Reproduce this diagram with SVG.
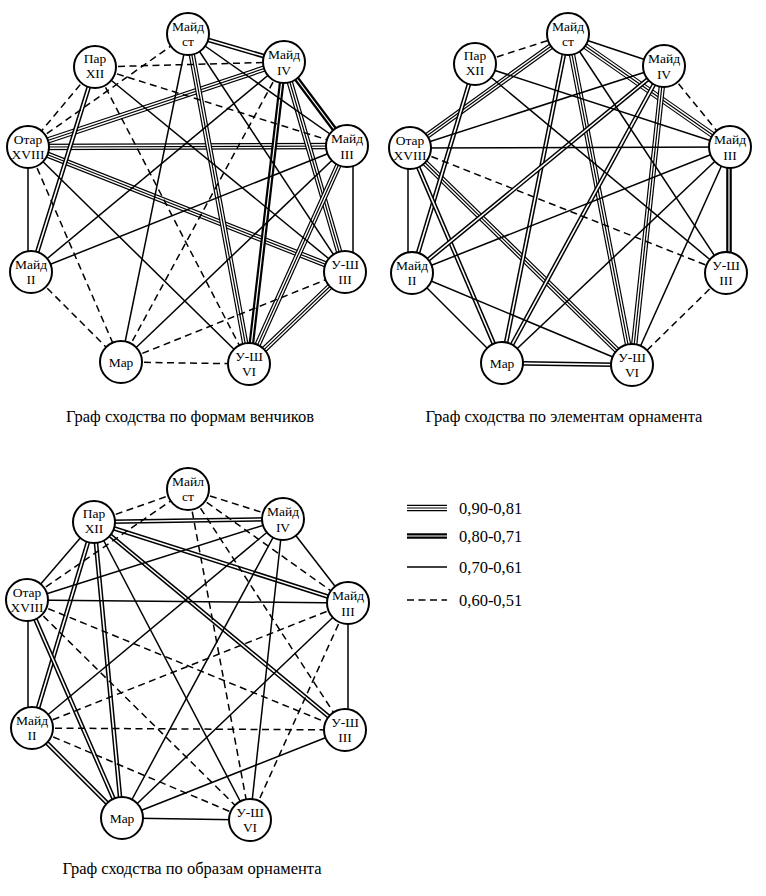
<svg xmlns="http://www.w3.org/2000/svg" width="766" height="896" viewBox="0 0 766 896">
<style>
.n circle{fill:#fff;stroke:#000;stroke-width:2}
.n text,.cap{font-family:"Liberation Serif","Times New Roman",serif;fill:#000;text-anchor:middle}
.n text{font-size:13.5px}
.cap{font-size:16.5px}
.lg{font-family:"Liberation Serif","Times New Roman",serif;font-size:16.5px;fill:#000}
line{fill:none}
.s{stroke:#000;stroke-width:1.5}
.d{stroke:#000;stroke-width:1.5;stroke-dasharray:7 4.5}
.t0{stroke:#000;stroke-width:6.4}
.t1{stroke:#fff;stroke-width:4}
.t2{stroke:#000;stroke-width:1.2}
.w0{stroke:#000;stroke-width:4.6}
.w1{stroke:#fff;stroke-width:1.6}
.k0{stroke:#000;stroke-width:5.6}
.k1{stroke:#fff;stroke-width:1.2}
</style>
<rect width="766" height="896" fill="#fff"/>

<g id="connectors-1">
<line class="t0" x1="28" y1="147" x2="284" y2="62"/><line class="t1" x1="28" y1="147" x2="284" y2="62"/><line class="t2" x1="28" y1="147" x2="284" y2="62"/>
<line class="t0" x1="28" y1="147" x2="347" y2="146"/><line class="t1" x1="28" y1="147" x2="347" y2="146"/><line class="t2" x1="28" y1="147" x2="347" y2="146"/>
<line class="t0" x1="28" y1="147" x2="345" y2="272"/><line class="t1" x1="28" y1="147" x2="345" y2="272"/><line class="t2" x1="28" y1="147" x2="345" y2="272"/>
<line class="t0" x1="188" y1="34" x2="249" y2="364"/><line class="t1" x1="188" y1="34" x2="249" y2="364"/><line class="t2" x1="188" y1="34" x2="249" y2="364"/>
<line class="t0" x1="284" y1="62" x2="345" y2="272"/><line class="t1" x1="284" y1="62" x2="345" y2="272"/><line class="t2" x1="284" y1="62" x2="345" y2="272"/>
<line class="t0" x1="347" y1="146" x2="249" y2="364"/><line class="t1" x1="347" y1="146" x2="249" y2="364"/><line class="t2" x1="347" y1="146" x2="249" y2="364"/>
<line class="t0" x1="345" y1="272" x2="249" y2="364"/><line class="t1" x1="345" y1="272" x2="249" y2="364"/><line class="t2" x1="345" y1="272" x2="249" y2="364"/>
<line class="w0" x1="95" y1="67" x2="31" y2="272"/><line class="w1" x1="95" y1="67" x2="31" y2="272"/>
<line class="w0" x1="188" y1="34" x2="284" y2="62"/><line class="w1" x1="188" y1="34" x2="284" y2="62"/>
<line class="k0" x1="284" y1="62" x2="249" y2="364"/><line class="k1" x1="284" y1="62" x2="249" y2="364"/>
<line class="k0" x1="284" y1="62" x2="347" y2="146"/><line class="k1" x1="284" y1="62" x2="347" y2="146"/>
<line class="s" x1="28" y1="147" x2="249" y2="364"/>
<line class="s" x1="28" y1="147" x2="28" y2="272"/>
<line class="s" x1="188" y1="34" x2="121" y2="362"/>
<line class="s" x1="188" y1="34" x2="347" y2="146"/>
<line class="s" x1="188" y1="34" x2="345" y2="272"/>
<line class="s" x1="284" y1="62" x2="31" y2="272"/>
<line class="s" x1="347" y1="146" x2="31" y2="272"/>
<line class="s" x1="347" y1="146" x2="121" y2="362"/>
<line class="s" x1="353" y1="146" x2="353" y2="272"/>
<line class="s" x1="95" y1="67" x2="345" y2="272"/>
<line class="d" x1="95" y1="67" x2="284" y2="62"/>
<line class="d" x1="95" y1="67" x2="347" y2="146"/>
<line class="d" x1="95" y1="67" x2="249" y2="364"/>
<line class="d" x1="95" y1="67" x2="28" y2="147"/>
<line class="d" x1="28" y1="147" x2="188" y2="34"/>
<line class="d" x1="28" y1="147" x2="121" y2="362"/>
<line class="d" x1="284" y1="62" x2="121" y2="362"/>
<line class="d" x1="31" y1="272" x2="121" y2="362"/>
<line class="d" x1="121" y1="362" x2="345" y2="272"/>
<line class="d" x1="121" y1="362" x2="249" y2="364"/>
</g>

<g id="connectors-2">
<line class="t0" x1="410" y1="148" x2="568" y2="34"/><line class="t1" x1="410" y1="148" x2="568" y2="34"/><line class="t2" x1="410" y1="148" x2="568" y2="34"/>
<line class="t0" x1="410" y1="148" x2="632" y2="365"/><line class="t1" x1="410" y1="148" x2="632" y2="365"/><line class="t2" x1="410" y1="148" x2="632" y2="365"/>
<line class="t0" x1="568" y1="34" x2="730" y2="147"/><line class="t1" x1="568" y1="34" x2="730" y2="147"/><line class="t2" x1="568" y1="34" x2="730" y2="147"/>
<line class="t0" x1="568" y1="34" x2="632" y2="365"/><line class="t1" x1="568" y1="34" x2="632" y2="365"/><line class="t2" x1="568" y1="34" x2="632" y2="365"/>
<line class="t0" x1="664" y1="66" x2="632" y2="365"/><line class="t1" x1="664" y1="66" x2="632" y2="365"/><line class="t2" x1="664" y1="66" x2="632" y2="365"/>
<line class="w0" x1="475" y1="64" x2="412" y2="273"/><line class="w1" x1="475" y1="64" x2="412" y2="273"/>
<line class="w0" x1="410" y1="148" x2="502" y2="363"/><line class="w1" x1="410" y1="148" x2="502" y2="363"/>
<line class="w0" x1="568" y1="34" x2="502" y2="363"/><line class="w1" x1="568" y1="34" x2="502" y2="363"/>
<line class="w0" x1="502" y1="363" x2="632" y2="365"/><line class="w1" x1="502" y1="363" x2="632" y2="365"/>
<line class="w0" x1="412" y1="273" x2="664" y2="66"/><line class="w1" x1="412" y1="273" x2="664" y2="66"/>
<line class="w0" x1="502" y1="363" x2="664" y2="66"/><line class="w1" x1="502" y1="363" x2="664" y2="66"/>
<line class="k0" x1="729" y1="147" x2="729" y2="273"/><line class="k1" x1="729" y1="147" x2="729" y2="273"/>
<line class="s" x1="475" y1="64" x2="730" y2="147"/>
<line class="s" x1="475" y1="64" x2="726" y2="273"/>
<line class="s" x1="410" y1="148" x2="664" y2="66"/>
<line class="s" x1="410" y1="148" x2="730" y2="147"/>
<line class="s" x1="408" y1="148" x2="408" y2="273"/>
<line class="s" x1="568" y1="34" x2="664" y2="66"/>
<line class="s" x1="568" y1="34" x2="726" y2="273"/>
<line class="s" x1="412" y1="273" x2="730" y2="147"/>
<line class="s" x1="412" y1="273" x2="632" y2="365"/>
<line class="s" x1="412" y1="273" x2="502" y2="363"/>
<line class="s" x1="502" y1="363" x2="730" y2="147"/>
<line class="s" x1="730" y1="147" x2="632" y2="365"/>
<line class="d" x1="475" y1="64" x2="568" y2="34"/>
<line class="d" x1="664" y1="66" x2="730" y2="147"/>
<line class="d" x1="410" y1="148" x2="726" y2="273"/>
<line class="d" x1="726" y1="273" x2="632" y2="365"/>
</g>

<g id="connectors-3">
<line class="w0" x1="94" y1="522" x2="283" y2="519"/><line class="w1" x1="94" y1="522" x2="283" y2="519"/>
<line class="w0" x1="94" y1="522" x2="348" y2="603"/><line class="w1" x1="94" y1="522" x2="348" y2="603"/>
<line class="w0" x1="94" y1="522" x2="345" y2="730"/><line class="w1" x1="94" y1="522" x2="345" y2="730"/>
<line class="w0" x1="94" y1="522" x2="122" y2="818"/><line class="w1" x1="94" y1="522" x2="122" y2="818"/>
<line class="w0" x1="94" y1="522" x2="32" y2="728"/><line class="w1" x1="94" y1="522" x2="32" y2="728"/>
<line class="w0" x1="27" y1="600" x2="122" y2="818"/><line class="w1" x1="27" y1="600" x2="122" y2="818"/>
<line class="w0" x1="32" y1="728" x2="122" y2="818"/><line class="w1" x1="32" y1="728" x2="122" y2="818"/>
<line class="s" x1="94" y1="522" x2="250" y2="820"/>
<line class="s" x1="94" y1="522" x2="27" y2="600"/>
<line class="s" x1="27" y1="600" x2="283" y2="519"/>
<line class="s" x1="27" y1="600" x2="348" y2="603"/>
<line class="s" x1="28" y1="600" x2="28" y2="728"/>
<line class="s" x1="283" y1="519" x2="122" y2="818"/>
<line class="s" x1="283" y1="519" x2="250" y2="820"/>
<line class="s" x1="283" y1="519" x2="348" y2="603"/>
<line class="s" x1="283" y1="519" x2="32" y2="728"/>
<line class="s" x1="348" y1="603" x2="348" y2="730"/>
<line class="s" x1="122" y1="818" x2="345" y2="730"/>
<line class="s" x1="122" y1="818" x2="250" y2="820"/>
<line class="s" x1="122" y1="818" x2="348" y2="603"/>
<line class="d" x1="94" y1="522" x2="188" y2="489"/>
<line class="d" x1="27" y1="600" x2="188" y2="489"/>
<line class="d" x1="27" y1="600" x2="345" y2="730"/>
<line class="d" x1="27" y1="600" x2="250" y2="820"/>
<line class="d" x1="188" y1="489" x2="283" y2="519"/>
<line class="d" x1="188" y1="489" x2="348" y2="603"/>
<line class="d" x1="188" y1="489" x2="250" y2="820"/>
<line class="d" x1="188" y1="489" x2="345" y2="730"/>
<line class="d" x1="348" y1="603" x2="32" y2="728"/>
<line class="d" x1="348" y1="603" x2="250" y2="820"/>
<line class="d" x1="32" y1="728" x2="345" y2="730"/>
<line class="d" x1="32" y1="728" x2="250" y2="820"/>
</g>

<g id="g1-par12" class="n"><circle cx="95" cy="67" r="21"/><text x="95" y="63">Пар</text><text x="95" y="78">XII</text></g>
<g id="g1-maid-st" class="n"><circle cx="188" cy="34" r="21"/><text x="188" y="31">Майд</text><text x="188" y="46">ст</text></g>
<g id="g1-maid4" class="n"><circle cx="284" cy="62" r="21"/><text x="284" y="59">Майд</text><text x="284" y="75">IV</text></g>
<g id="g1-otar18" class="n"><circle cx="28" cy="147" r="21"/><text x="28" y="144">Отар</text><text x="28" y="159">XVIII</text></g>
<g id="g1-maid3" class="n"><circle cx="347" cy="146" r="21"/><text x="347" y="143">Майд</text><text x="347" y="159">III</text></g>
<g id="g1-maid2" class="n"><circle cx="31" cy="272" r="21"/><text x="31" y="269">Майд</text><text x="31" y="284">II</text></g>
<g id="g1-ush3" class="n"><circle cx="345" cy="272" r="21"/><text x="345" y="269">У-Ш</text><text x="345" y="284">III</text></g>
<g id="g1-mar" class="n"><circle cx="121" cy="362" r="21"/><text x="121" y="367">Мар</text></g>
<g id="g1-ush6" class="n"><circle cx="249" cy="364" r="21"/><text x="249" y="361">У-Ш</text><text x="249" y="376">VI</text></g>

<g id="g2-par12" class="n"><circle cx="475" cy="64" r="21"/><text x="475" y="60">Пар</text><text x="475" y="75">XII</text></g>
<g id="g2-maid-st" class="n"><circle cx="568" cy="34" r="21"/><text x="568" y="31">Майд</text><text x="568" y="46">ст</text></g>
<g id="g2-maid4" class="n"><circle cx="664" cy="66" r="21"/><text x="664" y="63">Майд</text><text x="664" y="79">IV</text></g>
<g id="g2-otar18" class="n"><circle cx="410" cy="148" r="21"/><text x="410" y="145">Отар</text><text x="410" y="160">XVIII</text></g>
<g id="g2-maid3" class="n"><circle cx="730" cy="147" r="21"/><text x="730" y="144">Майд</text><text x="730" y="160">III</text></g>
<g id="g2-maid2" class="n"><circle cx="412" cy="273" r="21"/><text x="412" y="270">Майд</text><text x="412" y="285">II</text></g>
<g id="g2-ush3" class="n"><circle cx="726" cy="273" r="21"/><text x="726" y="270">У-Ш</text><text x="726" y="285">III</text></g>
<g id="g2-mar" class="n"><circle cx="502" cy="363" r="21"/><text x="502" y="368">Мар</text></g>
<g id="g2-ush6" class="n"><circle cx="632" cy="365" r="21"/><text x="632" y="362">У-Ш</text><text x="632" y="377">VI</text></g>

<g id="g3-par12" class="n"><circle cx="94" cy="522" r="21"/><text x="94" y="518">Пар</text><text x="94" y="533">XII</text></g>
<g id="g3-maid-st" class="n"><circle cx="188" cy="489" r="21"/><text x="188" y="486">Майл</text><text x="188" y="501">ст</text></g>
<g id="g3-maid4" class="n"><circle cx="283" cy="519" r="21"/><text x="283" y="516">Майд</text><text x="283" y="532">IV</text></g>
<g id="g3-otar18" class="n"><circle cx="27" cy="600" r="21"/><text x="27" y="597">Отар</text><text x="27" y="612">XVIII</text></g>
<g id="g3-maid3" class="n"><circle cx="348" cy="603" r="21"/><text x="348" y="600">Майд</text><text x="348" y="616">III</text></g>
<g id="g3-maid2" class="n"><circle cx="32" cy="728" r="21"/><text x="32" y="725">Майд</text><text x="32" y="740">II</text></g>
<g id="g3-ush3" class="n"><circle cx="345" cy="730" r="21"/><text x="345" y="727">У-Ш</text><text x="345" y="742">III</text></g>
<g id="g3-mar" class="n"><circle cx="122" cy="818" r="21"/><text x="122" y="823">Мар</text></g>
<g id="g3-ush6" class="n"><circle cx="250" cy="820" r="21"/><text x="250" y="817">У-Ш</text><text x="250" y="832">VI</text></g>

<g id="legend">
<line class="t0" x1="407" y1="508" x2="447" y2="508"/><line class="t1" x1="407" y1="508" x2="447" y2="508"/><line class="t2" x1="407" y1="508" x2="447" y2="508"/>
<line class="k0" x1="407" y1="536" x2="447" y2="536"/><line class="k1" x1="407" y1="536" x2="447" y2="536"/>
<line class="s" x1="407" y1="567" x2="447" y2="567"/>
<line class="d" x1="407" y1="600" x2="447" y2="600"/>
<text class="lg" x="459" y="514">0,90-0,81</text>
<text class="lg" x="459" y="542">0,80-0,71</text>
<text class="lg" x="459" y="573">0,70-0,61</text>
<text class="lg" x="459" y="606">0,60-0,51</text>
</g>

<text class="cap" x="190" y="422">Граф сходства по формам венчиков</text>
<text class="cap" x="564" y="422">Граф сходства по элементам орнамента</text>
<text class="cap" x="192" y="874">Граф сходства по образам орнамента</text>
</svg>
